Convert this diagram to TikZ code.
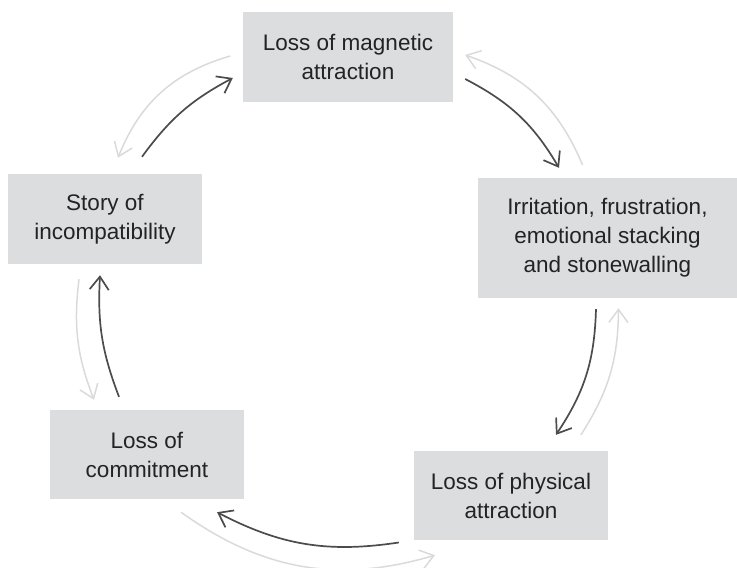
\documentclass[tikz,border=0pt]{standalone}
\usepackage{fontspec}
\setmainfont{Liberation Sans}
\usetikzlibrary{arrows.meta}
\definecolor{boxgray}{RGB}{220,221,223}
\definecolor{darkarrow}{RGB}{76,76,76}
\definecolor{lightarrow}{RGB}{218,218,218}
\definecolor{textgray}{RGB}{35,35,35}

\begin{document}
\begin{tikzpicture}[
    x=1pt, y=1pt,
    box/.style={rectangle, fill=boxgray, text=textgray, minimum width=194pt, minimum height=89pt, align=center, inner sep=0pt, font=\fontsize{22.5}{29}\selectfont},
    cyclearrow/.style={-{Straight Barb[length=13pt,width=19pt]}, line width=1.7pt, draw=darkarrow},
    returnarrow/.style={-{Straight Barb[length=13pt,width=19pt]}, line width=1.5pt, draw=lightarrow}
]
\useasboundingbox (0,0) rectangle (737,568);

% boxes
\node[box, minimum width=210pt, minimum height=90pt] (magnetic) at (348,511) {Loss of magnetic\\attraction};
\node[box, minimum width=259pt, minimum height=120pt] (irritation) at (607.5,330) {Irritation, frustration,\\emotional stacking\\and stonewalling};
\node[box, minimum height=90pt] (story) at (105,349) {Story of\\incompatibility};
\node[box] (commitment) at (147,113.5) {Loss of\\commitment};
\node[box] (physical) at (511,72.5) {Loss of physical\\attraction};

% dark arrows, clockwise
\draw[cyclearrow] ([xshift=37pt,yshift=17pt]story.north) to[bend left=13] ([xshift=-10pt,yshift=-21pt]magnetic.west);
\draw[cyclearrow] ([xshift=12pt,yshift=-22pt]magnetic.east) to[bend left=16] ([xshift=-48.5pt,yshift=10pt]irritation.north);
\draw[cyclearrow] ([xshift=-11.5pt,yshift=-11pt]irritation.south) to[bend left=16] ([xshift=45pt,yshift=16pt]physical.north);
\draw[cyclearrow] ([xshift=-15pt,yshift=-47pt]physical.west) to[bend left=18] ([xshift=70pt,yshift=-13pt]commitment.south);
\draw[cyclearrow] ([xshift=-28pt,yshift=13pt]commitment.north) to[bend left=12] ([xshift=-5pt,yshift=-11pt]story.south);

% light arrows, back the other way
\draw[returnarrow] ([xshift=-12.5pt,yshift=1pt]magnetic.west) to[bend right=26] ([xshift=13pt,yshift=16pt]story.north);
\draw[returnarrow] ([xshift=-25pt,yshift=13pt]irritation.north) to[bend right=24] ([xshift=12pt,yshift=2pt]magnetic.east);
\draw[returnarrow] ([xshift=70pt,yshift=16pt]physical.north) to[bend right=16] ([xshift=11pt,yshift=-10pt]irritation.south);
\draw[returnarrow] ([xshift=34pt,yshift=-13pt]commitment.south) to[bend right=26] ([xshift=-76pt,yshift=-15pt]physical.south);
\draw[returnarrow] ([xshift=-26pt,yshift=-15pt]story.south) to[bend right=14] ([xshift=-53pt,yshift=10pt]commitment.north);
\end{tikzpicture}
\end{document}
